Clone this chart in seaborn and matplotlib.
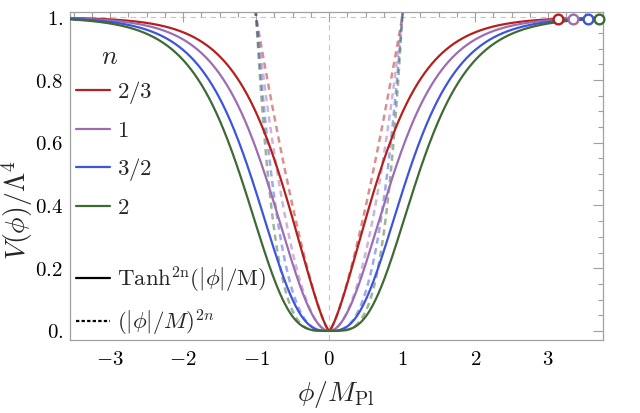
import numpy as np
import pandas as pd
import matplotlib
matplotlib.use("Agg")
import matplotlib.pyplot as plt
import seaborn as sns
from matplotlib.lines import Line2D
from matplotlib.ticker import MultipleLocator, FixedLocator, FuncFormatter

# ---- data ----
n_labels = ["2/3", "1", "3/2", "2"]
n_values = [2/3, 1.0, 3/2, 2.0]
M = 1.0
marker_phi = [3.13, 3.34, 3.54, 3.69]
colors = ["#B5201E", "#9B6DB3", "#3D55DD", "#3F6A35"]
x_ticks = [-3, -2, -1, 0, 1, 2, 3]
y_ticks = [0.0, 0.2, 0.4, 0.6, 0.8, 1.0]

sns.set_theme(style="white")
plt.rcParams["mathtext.fontset"] = "cm"
plt.rcParams["font.family"] = ["DejaVu Serif"]

W, H = 640, 413
fig = plt.figure(figsize=(6.4, 4.13), dpi=100)
ax = fig.add_axes([70 / W, 1 - 340 / H, 533 / W, 328 / H])

phi = np.linspace(-3.6, 3.8, 1500)
phi_d = np.linspace(-1.1, 1.1, 801)

rows = []
for lab, n in zip(n_labels, n_values):
    for p in phi:
        rows.append((p, np.tanh(abs(p) / M) ** (2 * n), lab, "tanh"))
    for p in phi_d:
        rows.append((p, (abs(p) / M) ** (2 * n), lab, "pow"))
df = pd.DataFrame(rows, columns=["phi", "V", "n", "kind"])

# reference lines
ax.axvline(0, color="#c8c8c8", lw=0.8, dashes=(5, 4), zorder=0)
ax.axhline(1, color="#c8c8c8", lw=0.8, dashes=(5, 4), zorder=0)

for lab, c in zip(n_labels, colors):
    sub = df[(df.n == lab) & (df.kind == "pow")]
    sns.lineplot(data=sub, x="phi", y="V", ax=ax, color=c, lw=1.8, alpha=0.5,
                 linestyle=(0, (2.5, 1.8)), zorder=2, estimator=None, sort=False)
for lab, c in zip(n_labels, colors):
    sub = df[(df.n == lab) & (df.kind == "tanh")]
    sns.lineplot(data=sub, x="phi", y="V", ax=ax, color=c, lw=1.6, zorder=3,
                 estimator=None, sort=False)

for xm, n, c in zip(marker_phi, n_values, colors):
    ax.plot([xm], [np.tanh(xm / M) ** (2 * n)], marker="o", ms=7, mfc="white",
            mec=c, mew=1.7, ls="none", zorder=5, clip_on=False)

ax.set_xlim(-3.55, 3.75)
ax.set_ylim(-0.029, 1.017)

ax.xaxis.set_major_locator(FixedLocator(x_ticks))
ax.xaxis.set_minor_locator(MultipleLocator(0.25))
ax.yaxis.set_major_locator(FixedLocator(y_ticks))
ax.yaxis.set_minor_locator(MultipleLocator(0.05))

def yfmt(v, pos):
    if abs(v) < 1e-9:
        return r"$0.$"
    if abs(v - 1) < 1e-9:
        return r"$1.$"
    return r"$%.1f$" % v

ax.yaxis.set_major_formatter(FuncFormatter(yfmt))
ax.xaxis.set_major_formatter(FuncFormatter(lambda v, p: r"$%d$" % v))

fc = "#a0a0a0"
for s in ax.spines.values():
    s.set_color(fc)
    s.set_linewidth(0.9)
ax.tick_params(which="both", direction="in", top=True, right=True, color=fc,
               labelsize=15, width=0.8, labelcolor="black")
ax.tick_params(which="major", length=7)
ax.tick_params(which="minor", length=3.8)
ax.tick_params(axis="x", pad=7)
ax.tick_params(axis="y", pad=5)
ax.set_xlabel("")
ax.set_ylabel("")

fig.text(336 / W, 1 - 395 / H, r"$\phi/M_{\mathrm{Pl}}$", fontsize=20,
         ha="center", va="center")
fig.text(17 / W, 1 - 210 / H, r"$V(\phi)/\Lambda^4$", fontsize=20,
         ha="center", va="center", rotation=90)

handles = [Line2D([], [], color=c, lw=1.6) for c in colors]
leg1 = ax.legend(handles, [r"$%s$" % l for l in n_labels],
                 loc="center left", bbox_to_anchor=(0.012, 0.582), frameon=False,
                 fontsize=16.5, handlelength=1.45, handletextpad=0.3,
                 labelspacing=0.62, borderaxespad=0, borderpad=0)
ax.add_artist(leg1)
fig.text(110 / W, 1 - 56 / H, r"$n$", fontsize=19, ha="center", va="center")

h2 = [Line2D([], [], color="black", lw=1.6),
      Line2D([], [], color="black", lw=1.6, linestyle=(0, (1.5, 1.0)))]
leg2 = ax.legend(h2, [r"$\mathrm{Tanh}^{2\mathrm{n}}(|\phi|/\mathrm{M})$", r"$(|\phi|/M)^{2n}$"],
                 loc="center left", bbox_to_anchor=(0.012, 0.119), frameon=False,
                 fontsize=16.5, handlelength=1.45, handletextpad=0.3, labelspacing=0.55,
                 borderaxespad=0, borderpad=0)

fig.savefig("out.png", dpi=100)
